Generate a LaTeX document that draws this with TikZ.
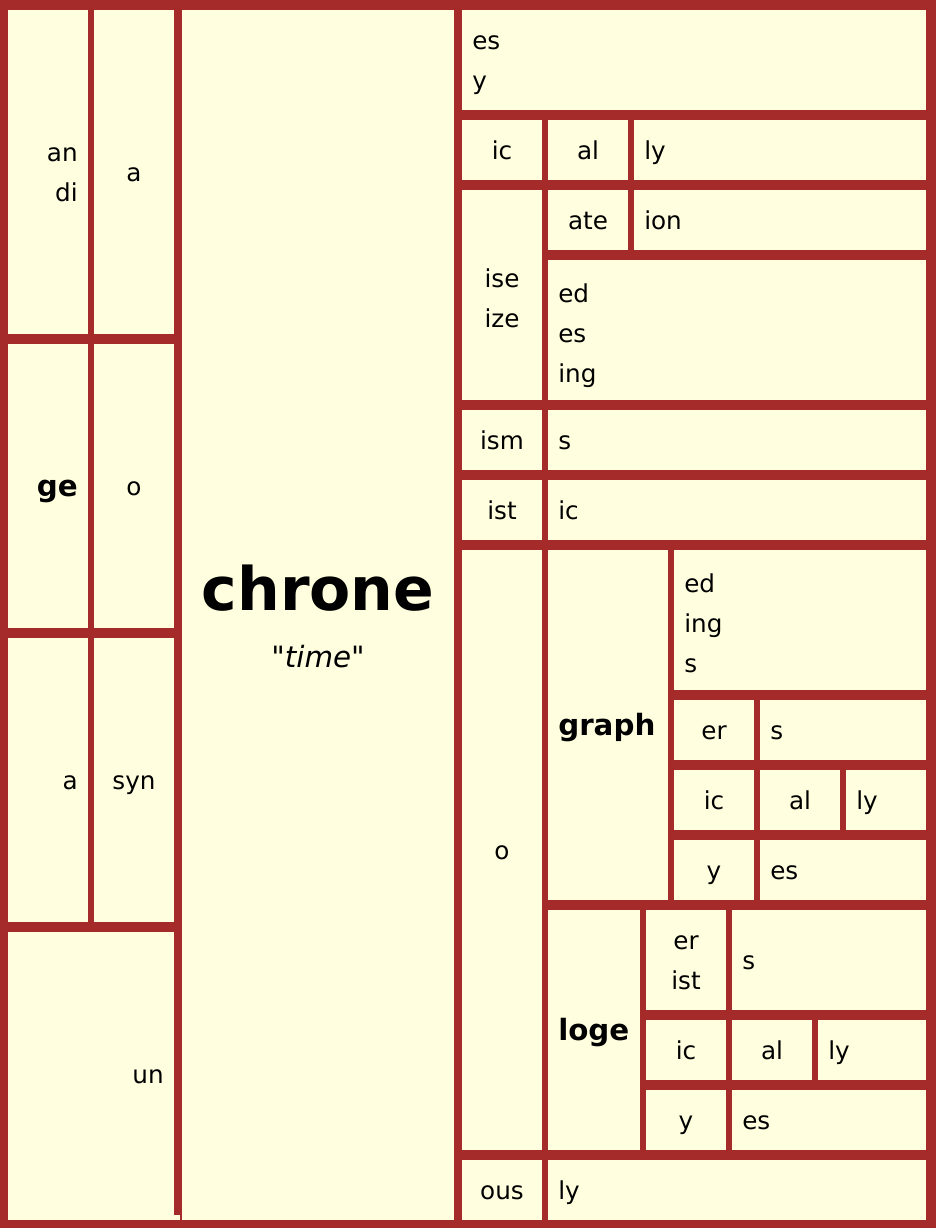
\documentclass[tikz,border=0pt]{standalone}
\usepackage{fontspec}
\setmainfont{DejaVu Sans}[Ligatures=TeXOff]
\newfontfamily\glossfont{DejaVu Sans Oblique}[Ligatures=TeXOff]
\usepackage{tikz}
\usetikzlibrary{positioning}
\usepackage{xcolor}
\definecolor{rim}{RGB}{165,42,42}
\definecolor{paper}{RGB}{255,255,224}

\tikzset{
  part/.style={font=\fontsize{18.5}{30}\selectfont, inner sep=0pt, yshift=-0.75pt, execute at begin node=\strut},
  lpart/.style={part, anchor=west, align=left},
  rpart/.style={part, anchor=east, align=right},
  cpart/.style={part, align=center},
  lines/.style={yshift=-6pt},
  stem/.style={font=\fontsize{22}{40}\selectfont\bfseries, inner sep=0pt, execute at begin node=\strut}
}

\begin{document}
\begin{tikzpicture}[x=0.75pt, y=-0.75pt]
  \useasboundingbox (0,0) rectangle (936,1228);
  \fill[rim] (0,0) rectangle (936,1228);
  % prefixes
  \foreach \a/\b/\c/\d in {8/10/88/334, 94/10/174/334, 8/344/88/628, 94/344/174/628,
      8/638/88/922, 94/638/174/922, 8/932/174/1220, 174/1215/180/1220}
    \fill[paper] (\a,\b) rectangle (\c,\d);
  % root
  \fill[paper] (182,10) rectangle (454,1220);
  % suffixes
  \foreach \a/\b/\c/\d in {462/10/926/110,
      462/120/542/180, 548/120/628/180, 634/120/926/180,
      462/190/542/400, 548/190/628/250, 634/190/926/250, 548/260/926/400,
      462/410/542/470, 548/410/926/470, 462/480/542/540, 548/480/926/540,
      462/550/542/1150, 548/550/668/900, 674/550/926/690,
      674/700/754/760, 760/700/926/760,
      674/770/754/830, 760/770/840/830, 846/770/926/830,
      674/840/754/900, 760/840/926/900,
      548/910/640/1150, 646/910/726/1010, 732/910/926/1010,
      646/1020/726/1080, 732/1020/812/1080, 818/1020/926/1080,
      646/1090/726/1150, 732/1090/926/1150,
      462/1160/542/1220, 548/1160/926/1220}
    \fill[paper] (\a,\b) rectangle (\c,\d);

  \node[rpart, lines] (andi) at (78,172) {an\\\strut di};
  \node[cpart] (a1) at (134,172) {a};
  \node[stem, anchor=east] (ge) at (78,486) {ge};
  \node[cpart] (o1) at (134,486) {o};
  \node[rpart] (a2) at (78,780) {a};
  \node[cpart] (syn) at (134,780) {syn};
  \node[rpart] (un) at (164,1074) {un};

  \node[font=\fontsize{45}{54}\selectfont\bfseries, anchor=base] (root) at (318,610) {chrone};
  \node[font=\glossfont\fontsize{22}{28}\selectfont, anchor=base] (gloss) at ([yshift=-43pt]root.base) {"time"};

  \node[lpart, lines] (esy) at (472,60) {es\\\strut y};
  \node[cpart] (ic1) at (502,150) {ic};
  \node[cpart] (al1) at (588,150) {al};
  \node[lpart] (ly1) at (644,150) {ly};
  \node[cpart, lines] (ise) at (502,295) {ise\\\strut ize};
  \node[cpart] (ate) at (588,220) {ate};
  \node[lpart] (ion) at (644,220) {ion};
  \node[lpart, lines] (edesing) at (558,330) {ed\\\strut es\\\strut ing};
  \node[cpart] (ism) at (502,440) {ism};
  \node[lpart] (s1) at (558,440) {s};
  \node[cpart] (ist) at (502,510) {ist};
  \node[lpart] (ic2) at (558,510) {ic};
  \node[cpart] (o2) at (502,850) {o};
  \node[stem, anchor=west] (graph) at (558,725) {graph};
  \node[lpart, lines] (edings) at (684,620) {ed\\\strut ing\\\strut s};
  \node[cpart] (er1) at (714,730) {er};
  \node[lpart] (s2) at (770,730) {s};
  \node[cpart] (ic3) at (714,800) {ic};
  \node[cpart] (al2) at (800,800) {al};
  \node[lpart] (ly2) at (856,800) {ly};
  \node[cpart] (y1) at (714,870) {y};
  \node[lpart] (es2) at (770,870) {es};
  \node[stem, anchor=west] (loge) at (558,1030) {loge};
  \node[cpart, lines] (erist) at (686,960) {er\\\strut ist};
  \node[lpart] (s3) at (742,960) {s};
  \node[cpart] (ic4) at (686,1050) {ic};
  \node[cpart] (al3) at (772,1050) {al};
  \node[lpart] (ly3) at (828,1050) {ly};
  \node[cpart] (y2) at (686,1120) {y};
  \node[lpart] (es3) at (742,1120) {es};
  \node[cpart] (ous) at (502,1190) {ous};
  \node[lpart] (ly4) at (558,1190) {ly};
\end{tikzpicture}
\end{document}
